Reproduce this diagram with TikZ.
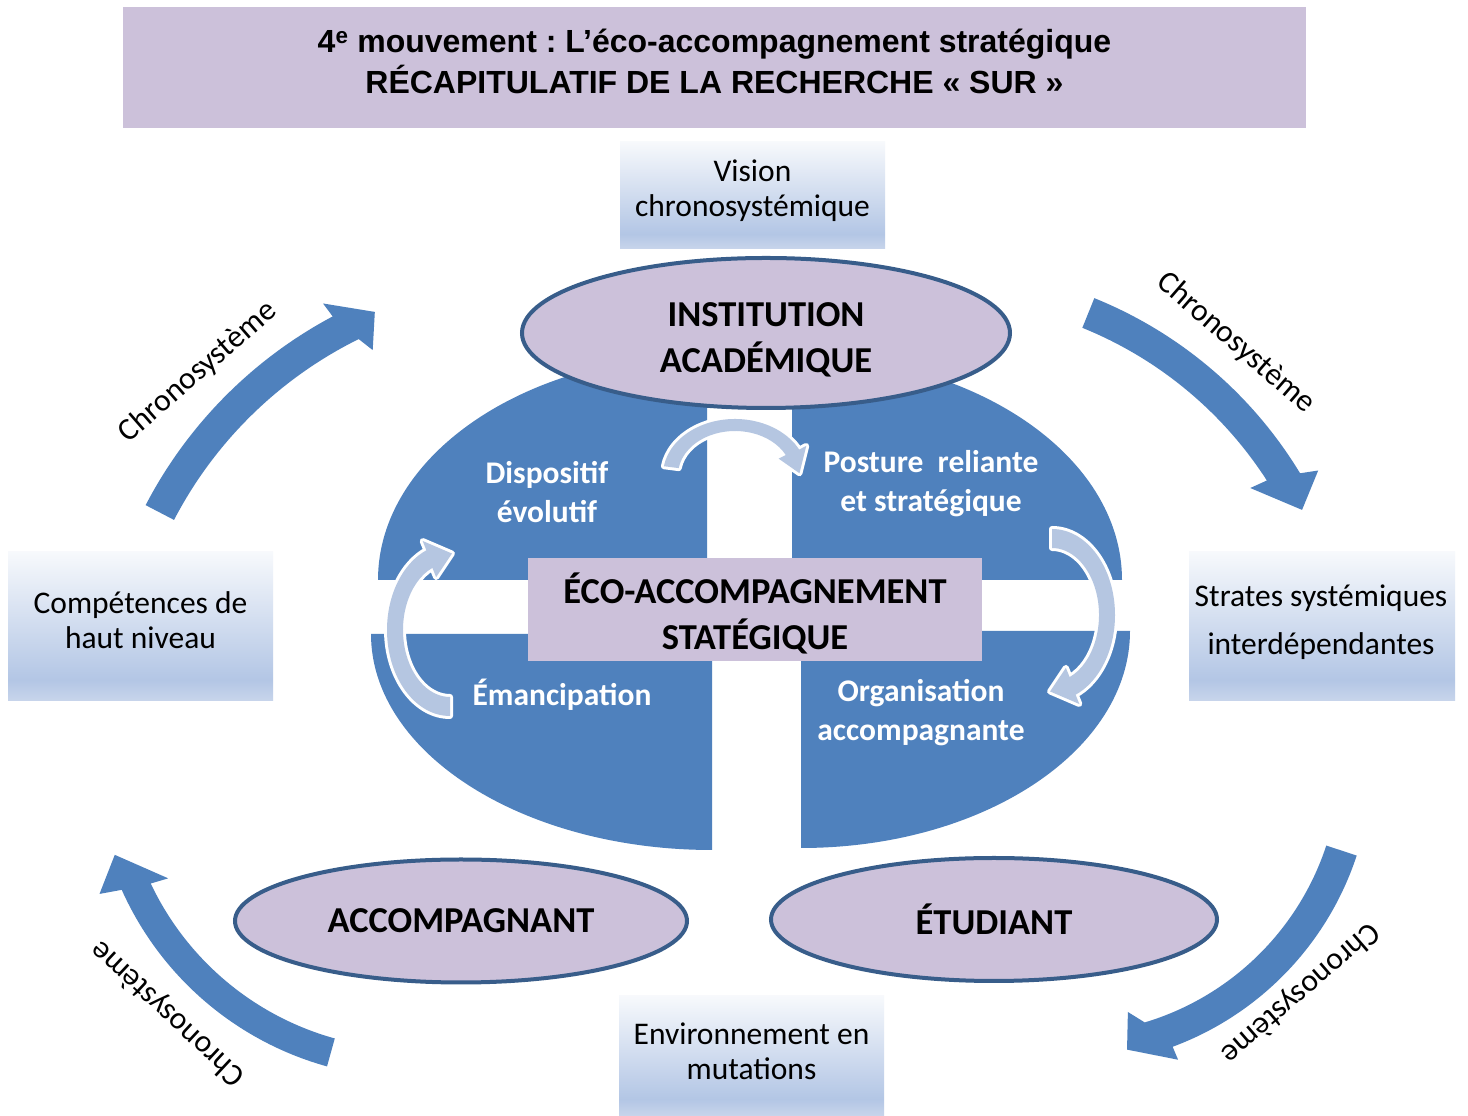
\documentclass[tikz,border=0pt]{standalone}
\usepackage{fontspec}
\setmainfont{Carlito}
\newfontfamily\arialfont{Liberation Sans}
\usetikzlibrary{shapes.geometric}
\frenchspacing
\definecolor{lav}{HTML}{CCC1DA}
\definecolor{edgeblue}{HTML}{385D8A}
\definecolor{qblue}{HTML}{4F81BD}
\definecolor{lblue}{HTML}{B5C6E1}
\definecolor{gtop}{HTML}{F7F9FC}
\definecolor{gdeep}{HTML}{B3C6E5}
\definecolor{gbot}{HTML}{C8D5EB}
\pgfdeclareverticalshading{boxshade}{100bp}{color(0bp)=(gbot); color(25bp)=(gbot); color(32bp)=(gdeep); color(75bp)=(gtop); color(100bp)=(gtop)}
\begin{document}
\begin{tikzpicture}[x=1pt,y=1pt,
  lavbox/.style={rectangle, fill=lav, inner sep=0pt},
  gradbox/.style={rectangle, shade, shading=boxshade, inner sep=0pt},
  boxtext/.style={align=center, inner sep=0pt, font=\fontsize{31.5}{35}\selectfont},
  ovalnode/.style={ellipse, draw=edgeblue, line width=4pt, fill=lav, inner sep=0pt, align=center, font=\bfseries\fontsize{36.5}{46}\selectfont},
  boldtext/.style={align=center, inner sep=0pt, font=\bfseries\fontsize{36.5}{46}\selectfont},
  qtext/.style={align=center, inner sep=0pt, text=white, font=\bfseries\fontsize{31.5}{39}\selectfont},
  chrono/.style={inner sep=0pt, font=\fontsize{31.5}{35}\selectfont},
  bigarrow/.style={fill=qblue},
  smallarrow/.style={preaction={draw=white, line width=6pt, line join=round}, fill=lblue}]
\fill[white] (0,0) rectangle (1468,1116);
\path[use as bounding box] (0,0) rectangle (1468,1116);

% title
\node[lavbox, minimum width=1183, minimum height=121] (titlebox) at (714.5,1048.5) {};
\node[align=center, inner sep=0pt, font=\arialfont\bfseries\fontsize{32}{41}\selectfont] (title) at (714.5,1054.5)
  {4\textsuperscript{e} mouvement : L’éco-accompagnement stratégique\\RÉCAPITULATIF DE LA RECHERCHE « SUR »};

% big curved arrows
\fill[bigarrow, shift={(543,404)}] (152.5:448) arc[start angle=152.5, end angle=118, radius=448]
  -- (118.3:464) -- (112.8:434) -- (115.2:400) -- (116.3:416)
  arc[start angle=116.3, end angle=152.5, radius=416] -- cycle;
\fill[bigarrow, shift={(934,421)}] (68:428) arc[start angle=68, end angle=31.2, radius=428]
  -- (30.3:445) -- (26.7:412) -- (33.2:378) -- (32.8:396)
  arc[start angle=32.8, end angle=68, radius=396] -- cycle;
\fill[bigarrow, shift={(1066,356)}] (-18.2:306) arc[start angle=-18.2, end angle=-69.6, radius=306]
  -- (-69.5:320) -- (-78.1:296) -- (-76.2:259.5) -- (-73.3:274)
  arc[start angle=-73.3, end angle=-18.2, radius=274] -- cycle;
\fill[bigarrow, shift={(412,356)}] (254.5:318) arc[start angle=254.5, end angle=204.1, radius=318]
  -- (203.2:340) -- (197.7:312) -- (205.9:271) -- (205.3:289)
  arc[start angle=205.3, end angle=254.5, radius=289] -- cycle;

% Chronosysteme labels
\node[chrono, rotate=41] (ch1) at (198,744) {Chronosystème};
\node[chrono, rotate=-41] (ch2) at (1236,773) {Chronosystème};
\node[chrono, rotate=220.8] (ch3) at (1300,123) {Chronosystème};
\node[chrono, rotate=137] (ch4) at (168,103) {Chronosystème};

% gradient boxes
\node[gradbox, minimum width=265, minimum height=107] (visionbox) at (752.5,920.5) {};
\node[boxtext] (vision) at (752.5,925.5) {Vision\\chronosystémique};
\node[gradbox, minimum width=265, minimum height=149] (compbox) at (140.5,489.5) {};
\node[boxtext] (comp) at (140.5,496) {Compétences de\\haut niveau};
\node[gradbox, minimum width=266, minimum height=149] (stratbox) at (1322,489.5) {};
\node[boxtext, font=\fontsize{31.5}{48}\selectfont] (strat) at (1321,494) {Strates systémiques\\interdépendantes};
\node[gradbox, minimum width=265, minimum height=120] (envbox) at (751.5,60) {};
\node[boxtext] (env) at (751.5,65) {Environnement en\\mutations};

% quadrants
\fill[qblue] (707,536) -- (378,536) arc[start angle=180, end angle=90, x radius=329, y radius=225] -- cycle;
\fill[qblue] (792,536) -- (1122,536) arc[start angle=0, end angle=90, x radius=330, y radius=225] -- cycle;
\fill[qblue] (712,482) -- (371,482) arc[start angle=180, end angle=270, x radius=341, y radius=216] -- cycle;
\fill[qblue] (801,485) -- (1130,485) arc[start angle=0, end angle=-90, x radius=329, y radius=217] -- cycle;

% centre
\node[lavbox, minimum width=454, minimum height=103] (ecobox) at (755,506.5) {};
\node[boldtext] (eco) at (755,502.5) {ÉCO-ACCOMPAGNEMENT\\STATÉGIQUE};

% small circular arrows
\path[smallarrow, shift={(735,641)}] (171:72 and 56) arc[start angle=171, end angle=27, x radius=72, y radius=56]
  -- (27:80 and 64) -- (2:64.5 and 50) -- (27:49 and 36) -- (27:57 and 44)
  arc[start angle=27, end angle=171, x radius=57, y radius=44] -- cycle;
\path[smallarrow, shift={(450,486)}] (270:63 and 86) arc[start angle=270, end angle=112, x radius=63, y radius=86]
  -- (112:73 and 96) -- (88:55 and 76.5) -- (112:37 and 57) -- (112:47 and 67)
  arc[start angle=112, end angle=270, x radius=47, y radius=67] -- cycle;
\path[smallarrow, shift={(1052,501)}] (90:63 and 86) arc[start angle=90, end angle=-68, x radius=63, y radius=86]
  -- (-68:73 and 96) -- (-92:55 and 76.5) -- (-68:37 and 57) -- (-68:47 and 67)
  arc[start angle=-68, end angle=90, x radius=47, y radius=67] -- cycle;

% quadrant texts
\node[qtext] (disp) at (547,623.5) {Dispositif\\évolutif};
\node[qtext] (post) at (931,632.5) {Posture\ \ reliante\\et stratégique};
\node[qtext] (eman) at (562,421) {Émancipation};
\node[qtext] (orga) at (921,403) {Organisation\\accompagnante};

% ellipses
\node[ovalnode, minimum width=488, minimum height=150] (inst) at (766,783) {};
\node[boldtext] (insttext) at (766,776) {INSTITUTION\\ACADÉMIQUE};
\node[ovalnode, minimum width=452, minimum height=123] (accomp) at (461,195) {ACCOMPAGNANT};
\node[ovalnode, minimum width=446, minimum height=123] (etud) at (994,196.5) {ÉTUDIANT};
\end{tikzpicture}
\end{document}
